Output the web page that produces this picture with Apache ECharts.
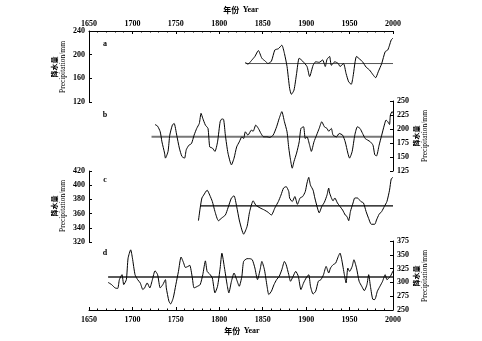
<!DOCTYPE html>
<html>
<head>
<meta charset="utf-8">
<script src="https://cdn.jsdelivr.net/npm/echarts@6/dist/echarts.min.js"></script>
<style>
  html, body { margin: 0; padding: 0; background: #fff; }
  #chart { width: 482px; height: 341px; }
</style>
</head>
<body>
<div id="chart"></div>
<script>
// Precipitation reconstructions (mm), four records on a shared year axis
const yearTicks = [1650, 1700, 1750, 1800, 1850, 1900, 1950, 2000];

// a
const yearsA = [1830, 1833, 1837, 1841, 1845, 1849, 1853, 1856, 1860, 1864, 1868, 1872, 1875, 1878, 1881, 1883, 1886, 1889, 1892, 1896, 1901, 1904, 1908, 1911, 1915, 1919, 1922, 1924, 1927, 1929, 1933, 1937, 1939, 1943, 1946, 1949, 1952, 1954, 1958, 1962, 1965, 1969, 1973, 1977, 1980, 1983, 1987, 1991, 1994, 1996, 1998, 2000];
const valuesA = [187, 184, 190, 197, 207, 194, 189, 185, 189, 208, 210, 216, 202, 180, 143, 133, 140, 168, 194, 189, 180, 163, 182, 188, 187, 191, 180, 192, 197, 182, 188, 185, 180, 185, 168, 154, 150, 163, 197, 192, 188, 179, 174, 166, 161, 171, 185, 205, 208, 216, 225, 228];
const meanA = { from: 1830, to: 2000, value: 185 };

// b
const yearsB = [1726, 1729, 1732, 1734, 1737, 1738, 1741, 1743, 1746, 1748, 1751, 1754, 1757, 1760, 1762, 1765, 1768, 1771, 1774, 1777, 1779, 1781, 1784, 1787, 1789, 1792, 1795, 1798, 1801, 1803, 1805, 1807, 1810, 1814, 1817, 1820, 1823, 1826, 1828, 1830, 1833, 1837, 1839, 1842, 1845, 1848, 1851, 1855, 1858, 1862, 1866, 1869, 1872, 1875, 1878, 1880, 1882, 1884, 1886, 1889, 1892, 1894, 1897, 1899, 1901, 1904, 1906, 1909, 1912, 1915, 1918, 1921, 1924, 1926, 1929, 1931, 1935, 1938, 1942, 1945, 1948, 1950, 1953, 1956, 1959, 1962, 1965, 1968, 1971, 1974, 1977, 1979, 1981, 1984, 1987, 1990, 1992, 1994, 1996, 1997, 1999, 2000];
const valuesB = [208, 205, 195, 177, 157, 148, 160, 189, 207, 210, 189, 166, 151, 148, 163, 171, 174, 189, 201, 210, 228, 219, 207, 201, 168, 166, 160, 177, 213, 218, 217, 189, 157, 136, 148, 168, 177, 186, 183, 195, 189, 198, 196, 207, 201, 192, 186, 186, 185, 189, 204, 219, 231, 213, 195, 166, 145, 130, 142, 157, 177, 201, 204, 183, 186, 171, 160, 177, 189, 201, 213, 204, 201, 196, 201, 189, 186, 192, 189, 177, 157, 148, 160, 189, 204, 201, 192, 183, 180, 177, 171, 154, 152, 171, 189, 207, 216, 213, 208, 225, 231, 228];
const meanB = { from: 1722, to: 2000, value: 186 };

// c
const yearsC = [1776, 1778, 1780, 1782, 1786, 1789, 1792, 1795, 1799, 1803, 1807, 1810, 1814, 1817, 1820, 1823, 1826, 1828, 1832, 1835, 1839, 1842, 1847, 1852, 1856, 1860, 1864, 1868, 1871, 1874, 1877, 1880, 1881, 1884, 1887, 1890, 1893, 1896, 1899, 1901, 1903, 1905, 1908, 1910, 1913, 1915, 1918, 1921, 1924, 1926, 1927, 1931, 1933, 1936, 1939, 1942, 1945, 1947, 1949, 1951, 1954, 1956, 1959, 1963, 1966, 1969, 1972, 1975, 1979, 1981, 1984, 1987, 1990, 1993, 1996, 1998, 2000];
const valuesC = [350, 368, 382, 386, 393, 386, 377, 363, 350, 354, 358, 368, 382, 385, 370, 351, 337, 331, 342, 363, 378, 372, 368, 365, 362, 358, 368, 377, 386, 396, 398, 391, 382, 377, 384, 373, 382, 384, 391, 403, 411, 400, 393, 382, 368, 361, 370, 376, 386, 396, 389, 378, 382, 375, 370, 365, 358, 356, 350, 363, 375, 382, 382, 377, 375, 363, 353, 345, 345, 351, 359, 363, 370, 377, 393, 409, 411];
const meanC = { from: 1778, to: 2000, value: 371 };

// d
const yearsD = [1672, 1676, 1680, 1683, 1685, 1688, 1690, 1693, 1695, 1698, 1700, 1703, 1706, 1709, 1712, 1714, 1717, 1720, 1723, 1726, 1729, 1732, 1735, 1738, 1739, 1742, 1744, 1747, 1750, 1753, 1756, 1759, 1761, 1764, 1766, 1769, 1771, 1775, 1778, 1781, 1784, 1786, 1789, 1792, 1795, 1798, 1801, 1803, 1806, 1809, 1811, 1814, 1817, 1820, 1823, 1826, 1828, 1832, 1835, 1838, 1841, 1844, 1847, 1849, 1852, 1855, 1857, 1860, 1863, 1866, 1869, 1872, 1875, 1877, 1880, 1882, 1885, 1888, 1891, 1894, 1897, 1900, 1903, 1905, 1908, 1911, 1914, 1917, 1920, 1923, 1926, 1928, 1931, 1934, 1937, 1939, 1941, 1944, 1946, 1948, 1950, 1953, 1955, 1958, 1961, 1964, 1967, 1970, 1972, 1974, 1977, 1979, 1982, 1985, 1988, 1991, 1993, 1997, 2000];
const valuesD = [300, 296, 290, 289, 305, 314, 296, 305, 344, 359, 344, 314, 305, 299, 287, 290, 299, 290, 305, 321, 314, 290, 296, 305, 290, 266, 261, 272, 296, 320, 346, 335, 327, 329, 331, 308, 290, 293, 296, 314, 339, 320, 315, 308, 281, 293, 326, 353, 326, 296, 281, 302, 317, 305, 293, 311, 338, 343, 343, 341, 326, 305, 323, 338, 323, 293, 278, 284, 296, 305, 311, 323, 338, 332, 314, 302, 311, 320, 311, 287, 299, 308, 314, 293, 279, 284, 302, 305, 314, 329, 317, 326, 332, 335, 347, 353, 341, 314, 299, 326, 320, 329, 341, 326, 302, 293, 285, 296, 314, 293, 269, 269, 284, 293, 302, 314, 305, 311, 321];
const meanD = { from: 1672, to: 2000, value: 310 };

const SERIF = '"Liberation Serif", "DejaVu Serif", serif';
const CJK = '"Noto Sans CJK SC", sans-serif';

const pair = (xs, ys) => xs.map((x, i) => [x, ys[i]]);
const meanLine = m => [[m.from, m.value], [m.to, m.value]];

const axisLabelStyle = { color: '#000', fontFamily: SERIF, fontWeight: 'bold', fontSize: 8 };
const axisLineStyle = { lineStyle: { color: '#000', width: 1 } };

function xAxisFor(gridIndex, position) {
  const shown = position !== 'none';
  return {
    type: 'value', gridIndex,
    min: yearTicks[0], max: yearTicks[yearTicks.length - 1], interval: yearTicks[1] - yearTicks[0],
    position: shown ? position : 'bottom',
    show: shown,
    axisLine: axisLineStyle,
    axisTick: { show: true, inside: true, length: 3, lineStyle: { color: '#000' } },
    minorTick: { show: true, splitNumber: 5, length: 1.5, lineStyle: { color: '#000' } },
    axisLabel: Object.assign({ margin: position === 'top' ? 3 : 6, formatter: v => String(v) }, axisLabelStyle),
    splitLine: { show: false }
  };
}

function yAxisFor(gridIndex, position, min, max, interval) {
  return {
    type: 'value', gridIndex, position, min, max, interval,
    axisLine: Object.assign({ show: true }, axisLineStyle),
    axisTick: { show: true, inside: true, length: 3, lineStyle: { color: '#000' } },
    axisLabel: Object.assign({ margin: 4, formatter: v => String(v) }, axisLabelStyle),
    splitLine: { show: false }
  };
}

function curve(idx, xs, ys) {
  return {
    type: 'line', xAxisIndex: idx, yAxisIndex: idx, data: pair(xs, ys),
    showSymbol: false, smooth: 0.2, silent: true,
    lineStyle: { color: '#000', width: 1 }, z: 3
  };
}

function mean(idx, m, color, width) {
  return {
    type: 'line', xAxisIndex: idx, yAxisIndex: idx, data: meanLine(m),
    showSymbol: false, silent: true,
    lineStyle: { color, width }, z: 2
  };
}

function panelLetter(text, x, y) {
  return { type: 'text', x, y, style: { text, font: 'bold 8px ' + SERIF, fill: '#000',
    align: 'center', verticalAlign: 'middle', textAlign: 'center', textVerticalAlign: 'middle' } };
}

function axisTitle(x, y) {
  return {
    type: 'group', x, y, rotation: Math.PI / 2,
    children: [
      { type: 'text', x: 0, y: -5, style: { text: '降水量', font: 'bold 7px ' + CJK, fill: '#000',
        align: 'center', verticalAlign: 'middle', textAlign: 'center', textVerticalAlign: 'middle' } },
      { type: 'text', x: 0, y: 4, style: { text: 'Precipitation/mm', font: '7.5px ' + SERIF, fill: '#000',
        align: 'center', verticalAlign: 'middle', textAlign: 'center', textVerticalAlign: 'middle' } }
    ]
  };
}

function yearTitle(x, y) {
  return {
    type: 'text', x, y,
    style: {
      text: '{c|年份} {e|Year}',
      rich: { c: { font: 'bold 8px ' + CJK, fill: '#000' }, e: { font: 'bold 8px ' + SERIF, fill: '#000' } },
      align: 'center', verticalAlign: 'middle', textAlign: 'center', textVerticalAlign: 'middle'
    }
  };
}

const chart = echarts.init(document.getElementById('chart'), null, { renderer: 'canvas' });
chart.setOption({
  animation: false,
  backgroundColor: '#fff',
  grid: [
    { left: 89, right: 89, top: 31, height: 71 },
    { left: 89, right: 89, top: 101, height: 70 },
    { left: 89, right: 89, top: 171, height: 71 },
    { left: 89, right: 89, top: 241, height: 69 }
  ],
  xAxis: [
    xAxisFor(0, 'top'),
    xAxisFor(1, 'none'),
    xAxisFor(2, 'none'),
    xAxisFor(3, 'bottom')
  ],
  yAxis: [
    yAxisFor(0, 'left', 120, 240, 40),
    yAxisFor(1, 'right', 125, 250, 25),
    yAxisFor(2, 'left', 320, 420, 20),
    yAxisFor(3, 'right', 250, 375, 25)
  ],
  series: [
    mean(0, meanA, '#555', 1), curve(0, yearsA, valuesA),
    mean(1, meanB, '#777', 2), curve(1, yearsB, valuesB),
    mean(2, meanC, '#000', 1.2), curve(2, yearsC, valuesC),
    mean(3, meanD, '#222', 1.5), curve(3, yearsD, valuesD)
  ],
  graphic: [
    yearTitle(241, 10),
    yearTitle(242, 331),
    panelLetter('a', 105, 44),
    panelLetter('b', 105, 115),
    panelLetter('c', 105, 180),
    panelLetter('d', 105, 253),
    axisTitle(59, 67),
    axisTitle(421, 136),
    axisTitle(59, 206),
    axisTitle(421, 276)
  ]
});
</script>
</body>
</html>
